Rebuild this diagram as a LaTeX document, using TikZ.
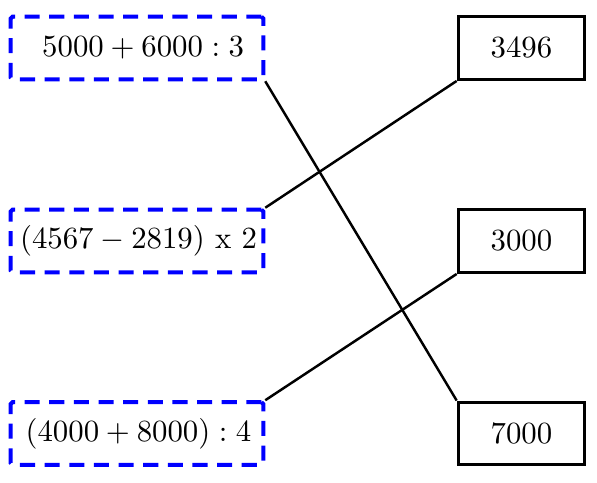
\documentclass[tikz,border=0pt]{standalone}
\begin{document}
\begin{tikzpicture}[x=0.3247pt,y=-0.3247pt,
  exprbox/.style={draw=blue, line width=1.3pt, dash pattern=on 4.9pt off 3.1pt, rounded corners=0.6pt, minimum width=82pt, minimum height=20.3pt, inner sep=0pt},
  valbox/.style={draw=black, line width=1.1pt, minimum width=41pt, minimum height=20.3pt, inner sep=0pt},
  link/.style={draw=black, line width=0.8pt}]
\useasboundingbox (0,0) rectangle (597,483);
\node[exprbox] (l1) at (137,48) {\hspace*{4pt}$5000+6000:3$};
\node[exprbox] (l2) at (137,241) {\hspace*{1pt}$(4567-2819)$ x $2$};
\node[exprbox] (l3) at (137,433.5) {\hspace*{1pt}$(4000+8000):4$};
\node[valbox] (r1) at (521.5,48) {$3496$};
\node[valbox] (r2) at (521.5,241) {$3000$};
\node[valbox] (r3) at (521.5,433.5) {$7000$};
\draw[link] (l1.south east) -- (r3.north west);
\draw[link] (l2.north east) -- (r1.south west);
\draw[link] (l3.north east) -- (r2.south west);
\end{tikzpicture}
\end{document}
